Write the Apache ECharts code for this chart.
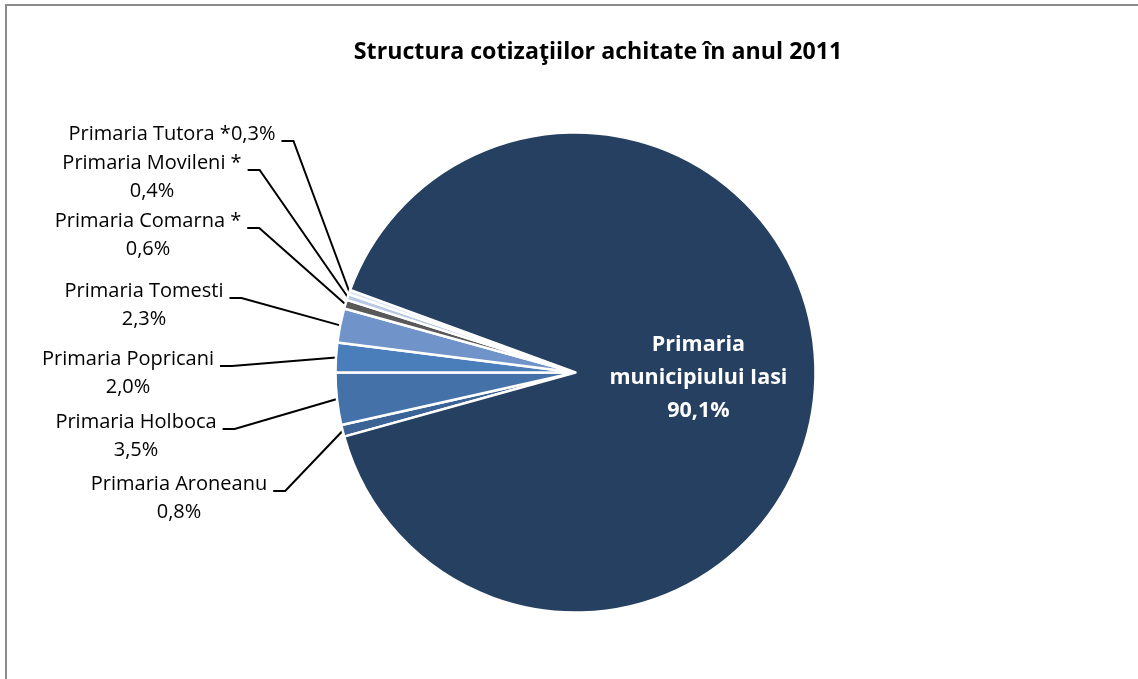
<!DOCTYPE html>
<html>
<head>
<meta charset="utf-8">
<script src="https://cdn.jsdelivr.net/npm/echarts@6/dist/echarts.min.js"></script>
<style>
html,body{margin:0;padding:0;background:#fff;}
#main{width:1138px;height:679px;}
</style>
</head>
<body>
<div id="main"></div>
<script>
// ---- data ----
var names = ['Primaria Aroneanu','Primaria Holboca','Primaria Popricani','Primaria Tomesti','Primaria Comarna *','Primaria Movileni *','Primaria Tutora *','Primaria municipiului Iasi'];
var values = [0.8, 3.5, 2.0, 2.3, 0.6, 0.4, 0.3, 90.1];
var labelSeparators = ['\n','\n','\n','\n','\n','\n','','\n'];
var colors = ['#3C6396','#4472A8','#4A7EBB','#7094C9','#595959','#B7CAE3','#DCE6F2','#264061'];
var titleText = 'Structura cotizaţiilor achitate în anul 2011';

// ---- layout of the outside labels (center x, first-line center y) ----
var labelPlace = [[179,484],[136,422],[128,359],[144,291],[148,221],[152,163],[172,134]];
var LINE_H = 28;
var FONT = '"Open Sans"';

function fmt(v){ return v.toFixed(1).replace('.', ','); }

var chart = echarts.init(document.getElementById('main'));
var data = names.map(function(n,i){
  var item = {name:n, value:values[i], itemStyle:{color:colors[i]}};
  if (i === names.length-1) {
    item.label = {position:'inside', color:'#fff', fontWeight:'bold', fontSize:21.5, lineHeight:33,
      fontFamily:FONT,
      formatter: function(p){ return 'Primaria\nmunicipiului Iasi\n' + fmt(p.value) + '%'; }};
    item.labelLine = {show:false};
  }
  return item;
});

chart.setOption({
  backgroundColor:'#fff',
  animation:false,
  title:{text:titleText, left:593, top:36, textAlign:'center',
    textStyle:{fontFamily:FONT, fontWeight:'bold', fontSize:23.2, color:'#000'}},
  graphic:[{type:'rect', shape:{x:6,y:5,width:1200,height:800}, style:{fill:'none', stroke:'#8c8c8c', lineWidth:2}, silent:true}],
  series:[{
    type:'pie',
    center:[575.5,372.5],
    radius:240,
    startAngle:195.5,
    clockwise:true,
    avoidLabelOverlap:false,
    data:data,
    itemStyle:{borderColor:'#fff', borderWidth:2.5},
    label:{show:true, position:'outside', fontFamily:FONT, fontSize:20, lineHeight:LINE_H, color:'#000',
      align:'center', overflow:'none',
      formatter:function(p){ return p.name + labelSeparators[p.dataIndex] + fmt(p.value) + '%'; }},
    labelLine:{show:true, length:10, length2:10, lineStyle:{color:'#000', width:2}},
    labelLayout:function(p){
      var pl = labelPlace[p.dataIndex];
      if (!pl) return {};
      var w = p.labelRect.width;
      var top = pl[1] - LINE_H/2;
      var lineY = pl[1] + 7;
      var rx = pl[0] + w/2 + 6;
      var pts = p.labelLinePoints;
      var start = pts ? pts[0] : [rx+40, lineY];
      return {x:pl[0], y:top, align:'center', verticalAlign:'top',
        labelLinePoints:[start, [rx+12, lineY], [rx, lineY]]};
    }
  }]
});
</script>
</body>
</html>
